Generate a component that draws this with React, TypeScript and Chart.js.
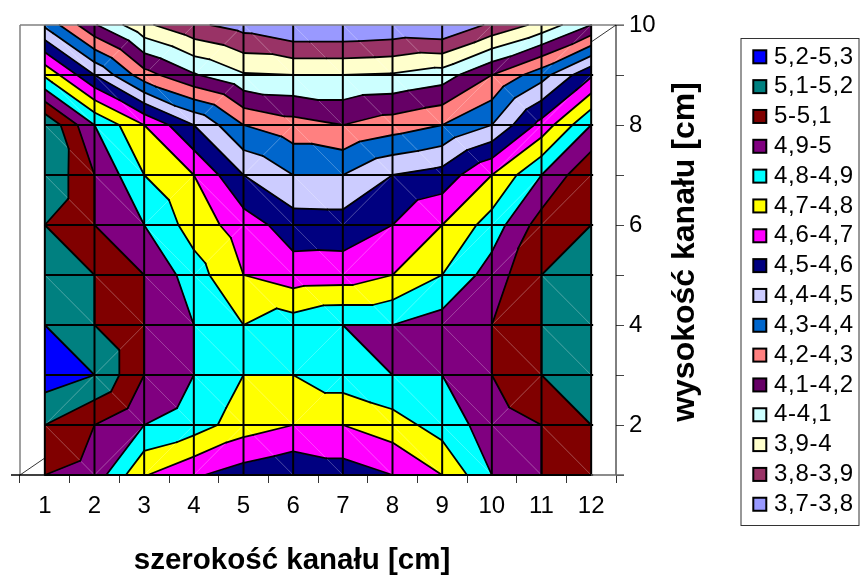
import { useEffect, useRef } from "react";
import { Chart, registerables } from "chart.js";

Chart.register(...registerables);

const FONT = "'Liberation Sans', Arial, sans-serif";

// Channel width categories (cm) and the measured heights (cm) along the right axis.
const widthLabels = ["1", "2", "3", "4", "5", "6", "7", "8", "9", "10", "11", "12"];

// Measured value at every width, one list per channel height.
const height1 = [5.0, 4.96, 4.707, 4.613, 4.553, 4.51, 4.55, 4.6, 4.7, 4.9, 5.0, 5.05];
const height2 = [5.1, 5.0, 4.9, 4.849, 4.747, 4.7, 4.7, 4.754, 4.845, 4.946, 5.0, 5.1];
const height3 = [5.254, 5.2, 5.0, 4.9, 4.8, 4.8, 4.856, 4.9, 4.9, 5.0, 5.1, 5.15];
const height4 = [5.2, 5.1, 5.0, 4.9, 4.8, 4.85, 4.9, 4.9, 4.945, 5.0, 5.1, 5.15];
const height5 = [5.15, 5.1, 5.0, 4.846, 4.7, 4.645, 4.65, 4.7, 4.8, 4.947, 5.1, 5.13];
const height6 = [5.1, 5.0, 4.9, 4.755, 4.65, 4.55, 4.545, 4.6, 4.7, 4.845, 5.047, 5.1];
const height7 = [5.19, 5.0, 4.8, 4.7, 4.5, 4.4, 4.4, 4.5, 4.54, 4.7, 4.9, 5.09];
const height8 = [5.193, 4.9, 4.7, 4.5, 4.3, 4.24, 4.2, 4.25, 4.3, 4.4, 4.635, 4.9];
const height9 = [4.783, 4.5, 4.24, 4.11, 4.01, 4.0, 4.0, 4.01, 4.05, 4.2, 4.36, 4.585];
const height10 = [4.38, 4.11, 3.92, 3.82, 3.76, 3.7, 3.7, 3.715, 3.7, 3.82, 3.93, 4.1];
const surface = [height1, height2, height3, height4, height5, height6, height7, height8, height9, height10];

// How each grid cell is split into two triangles: d = falling diagonal, u = rising diagonal.
const cellSplits = [
  "d u u u d d d d d d d",
  "u d d d d u d d d u d",
  "d u d d d u d d d d d",
  "d d d d d d d u u u d",
  "d d d u d d u u u u u",
  "d d u d d d u d u u u",
  "d d d d u d d d d u u",
  "d d d u d d d d u d u",
  "d u u u d d d d u u u",
].map((row) => row.split(" "));

// Contour bands, highest first.
const bandLabels = [
  "5,2-5,3", "5,1-5,2", "5-5,1", "4,9-5", "4,8-4,9", "4,7-4,8", "4,6-4,7", "4,5-4,6",
  "4,4-4,5", "4,3-4,4", "4,2-4,3", "4,1-4,2", "4-4,1", "3,9-4", "3,8-3,9", "3,7-3,8",
];
const bandLows = [5.2, 5.1, 5.0, 4.9, 4.8, 4.7, 4.6, 4.5, 4.4, 4.3, 4.2, 4.1, 4.0, 3.9, 3.8, 3.7];
const bandHighs = [5.3, 5.2, 5.1, 5.0, 4.9, 4.8, 4.7, 4.6, 4.5, 4.4, 4.3, 4.2, 4.1, 4.0, 3.9, 3.8];
const bandColors = [
  "#0000ff", "#008080", "#800000", "#800080", "#00ffff", "#ffff00", "#ff00ff", "#000080",
  "#ccccff", "#0066cc", "#ff8080", "#660066", "#ccffff", "#ffffcc", "#993366", "#9999ff",
];

const xTitle = "szerokość kanału [cm]";
const yTitle = "wysokość kanału [cm]";

type Vertex = { x: number; y: number; z: number };

// Keeps the part of a convex polygon lying on one side of a value.
function clipPolygon(points: Vertex[], level: number, keepAbove: boolean): Vertex[] {
  const inside = (p: Vertex) => (keepAbove ? p.z >= level : p.z <= level);
  const out: Vertex[] = [];
  points.forEach((a, i) => {
    const b = points[(i + 1) % points.length];
    if (inside(a)) out.push(a);
    if (inside(a) !== inside(b)) {
      const t = (level - a.z) / (b.z - a.z);
      out.push({ x: a.x + t * (b.x - a.x), y: a.y + t * (b.y - a.y), z: level });
    }
  });
  return out;
}

// End points of the iso-line of one value inside a triangle. An edge lying exactly on the
// value separates two bands only when seen from the triangle on its lower side.
function isoSegment(tri: Vertex[], level: number): Vertex[] {
  const onLevel = tri.filter((p) => p.z === level);
  if (onLevel.length === 3) return [];
  if (onLevel.length === 2) {
    const third = tri.find((p) => p.z !== level) as Vertex;
    return third.z < level ? onLevel : [];
  }
  const pts: Vertex[] = [...onLevel];
  tri.forEach((a, i) => {
    const b = tri[(i + 1) % 3];
    if ((a.z - level) * (b.z - level) < 0) {
      const t = (level - a.z) / (b.z - a.z);
      pts.push({ x: a.x + t * (b.x - a.x), y: a.y + t * (b.y - a.y), z: level });
    }
  });
  return pts.length === 2 ? pts : [];
}

function surfaceTriangles(chart: Chart) {
  const xs = chart.scales.x;
  const ys = chart.scales.y;
  const vertex = (col: number, row: number): Vertex => ({
    x: xs.getPixelForValue(col),
    y: ys.getPixelForValue(row + 1),
    z: surface[row][col],
  });
  const result: { tris: Vertex[][]; diagonal: Vertex[] }[] = [];
  for (let row = 0; row < surface.length - 1; row++) {
    for (let col = 0; col < widthLabels.length - 1; col++) {
      const sw = vertex(col, row);
      const se = vertex(col + 1, row);
      const nw = vertex(col, row + 1);
      const ne = vertex(col + 1, row + 1);
      if (cellSplits[row][col] === "d") {
        result.push({ tris: [[nw, sw, se], [nw, ne, se]], diagonal: [nw, se] });
      } else {
        result.push({ tris: [[sw, nw, ne], [sw, se, ne]], diagonal: [sw, ne] });
      }
    }
  }
  return result;
}

const contourPlugin = {
  id: "contourSurface",
  beforeDatasetsDraw(chart: Chart) {
    const { ctx } = chart;
    const xs = chart.scales.x;
    const ys = chart.scales.y;
    const cells = surfaceTriangles(chart);
    ctx.save();
    ctx.lineJoin = "round";

    // Filled bands, lowest first so a flat facet takes the band above its value
    for (let b = bandLabels.length - 1; b >= 0; b--) {
      ctx.fillStyle = bandColors[b];
      ctx.strokeStyle = bandColors[b];
      ctx.lineWidth = 0.6;
      cells.forEach((cell) =>
        cell.tris.forEach((tri) => {
          const poly = clipPolygon(clipPolygon(tri, bandLows[b], true), bandHighs[b], false);
          if (poly.length < 3) return;
          ctx.beginPath();
          poly.forEach((p, i) => (i ? ctx.lineTo(p.x, p.y) : ctx.moveTo(p.x, p.y)));
          ctx.closePath();
          ctx.fill();
          ctx.stroke();
        })
      );
    }

    // Faint facet edges
    ctx.strokeStyle = "rgba(255,255,255,0.28)";
    ctx.lineWidth = 0.8;
    cells.forEach(({ diagonal: [a, b] }) => {
      ctx.beginPath();
      ctx.moveTo(a.x, a.y);
      ctx.lineTo(b.x, b.y);
      ctx.stroke();
    });

    // Band boundaries
    ctx.strokeStyle = "#000";
    ctx.lineWidth = 1.8;
    ctx.lineCap = "round";
    bandLows.forEach((level) => {
      cells.forEach((cell) =>
        cell.tris.forEach((tri) => {
          const seg = isoSegment(tri, level);
          if (!seg.length) return;
          ctx.beginPath();
          ctx.moveTo(seg[0].x, seg[0].y);
          ctx.lineTo(seg[1].x, seg[1].y);
          ctx.stroke();
        })
      );
    });

    // Mesh lines at every width and height
    ctx.lineCap = "butt";
    ctx.lineWidth = 2;
    const left = xs.getPixelForValue(0);
    const right = xs.getPixelForValue(widthLabels.length - 1);
    const bottom = ys.getPixelForValue(1);
    const top = ys.getPixelForValue(surface.length);
    widthLabels.forEach((_, col) => {
      const x = xs.getPixelForValue(col);
      ctx.beginPath();
      ctx.moveTo(x, top);
      ctx.lineTo(x, bottom);
      ctx.stroke();
    });
    surface.forEach((_, row) => {
      if (row === surface.length - 1) return;
      const y = ys.getPixelForValue(row + 1);
      ctx.beginPath();
      ctx.moveTo(left, y);
      ctx.lineTo(right + 2, y);
      ctx.stroke();
    });
    ctx.restore();
  },
  afterDraw(chart: Chart) {
    const { ctx, chartArea: area } = chart;
    const xs = chart.scales.x;
    const floorLeft = xs.getPixelForValue(0);
    const floorRight = xs.getPixelForValue(widthLabels.length - 1);
    const line = (x1: number, y1: number, x2: number, y2: number, color: string, width: number) => {
      ctx.strokeStyle = color;
      ctx.lineWidth = width;
      ctx.beginPath();
      ctx.moveTo(x1, y1);
      ctx.lineTo(x2, y2);
      ctx.stroke();
    };
    ctx.save();

    // Back walls and axis lines of the flattened 3-D box
    line(area.left, area.top, area.left, area.bottom, "#808080", 1.5);
    line(area.left, area.top, area.right + 8, area.top, "#808080", 1.5);
    line(area.right, area.top, area.right, area.bottom, "#000", 1);
    line(area.left, area.bottom, floorLeft, area.bottom - 17, "#000", 0.8);
    line(area.right, area.top, floorRight, area.top + 17, "#000", 0.8);
    line(area.left - 9, area.bottom, floorRight, area.bottom, "#000", 1.7);
    line(floorRight, area.bottom, area.right + 8, area.bottom, "#666", 1.5);

    // Axis titles
    ctx.fillStyle = "#000";
    ctx.textAlign = "center";
    ctx.textBaseline = "middle";
    ctx.font = `bold 29.5px ${FONT}`;
    ctx.fillText(xTitle, 292, 561);
    ctx.translate(685, 252);
    ctx.rotate(-Math.PI / 2);
    ctx.font = `bold 32px ${FONT}`;
    ctx.fillText(yTitle, 0, 0);
    ctx.restore();

    // Legend box
    ctx.save();
    ctx.strokeStyle = "#333";
    ctx.lineWidth = 1;
    ctx.strokeRect(741, 38.5, 118, 487);
    ctx.font = `24px ${FONT}`;
    ctx.textAlign = "left";
    ctx.textBaseline = "alphabetic";
    (ctx as any).letterSpacing = "0.75px";
    bandLabels.forEach((label, i) => {
      const y = 50.3 + i * 29.83;
      ctx.fillStyle = bandColors[i];
      ctx.strokeStyle = "#000";
      ctx.lineWidth = 2;
      ctx.fillRect(753.3, y, 13, 13);
      ctx.strokeRect(753.3, y, 13, 13);
      ctx.fillStyle = "#000";
      ctx.fillText(label, 774, y + 13.2);
    });
    ctx.restore();
  },
};

export default function App() {
  const canvasRef = useRef<HTMLCanvasElement | null>(null);

  useEffect(() => {
    if (!canvasRef.current) return;
    const chart = new Chart(canvasRef.current, {
      type: "line",
      data: { labels: widthLabels, datasets: [] },
      plugins: [contourPlugin],
      options: {
        animation: false,
        responsive: false,
        layout: {
          autoPadding: false,
          padding: { left: 20, top: 25, right: 0, bottom: 0 },
        },
        plugins: { legend: { display: false }, tooltip: { enabled: false } },
        scales: {
          x: {
            type: "category",
            offset: true,
            afterFit: (scale: any) => {
              scale.height = 101;
            },
            border: { display: false },
            grid: { offset: true, drawOnChartArea: false, tickLength: 8, color: "#333", lineWidth: 1 },
            ticks: {
              color: "#000",
              font: { family: FONT, size: 24 },
              padding: 9,
              maxRotation: 0,
              autoSkip: false,
            },
          },
          y: {
            type: "linear",
            position: "right",
            min: 1,
            max: 10,
            afterFit: (scale: any) => {
              scale.width = 245;
            },
            border: { display: false },
            grid: { drawOnChartArea: false, tickLength: 8, color: "#444", lineWidth: 1 },
            ticks: {
              stepSize: 1,
              autoSkip: false,
              color: "#000",
              font: { family: FONT, size: 24 },
              padding: 5,
              callback: (value: any) => (Number(value) % 2 === 0 ? String(value) : ""),
            },
          },
        },
      },
    } as any);
    return () => chart.destroy();
  }, []);

  return (
    <div style={{ position: "absolute", left: 0, top: 0 }}>
      <canvas ref={canvasRef} width={861} height={576} style={{ display: "block" }} />
    </div>
  );
}
